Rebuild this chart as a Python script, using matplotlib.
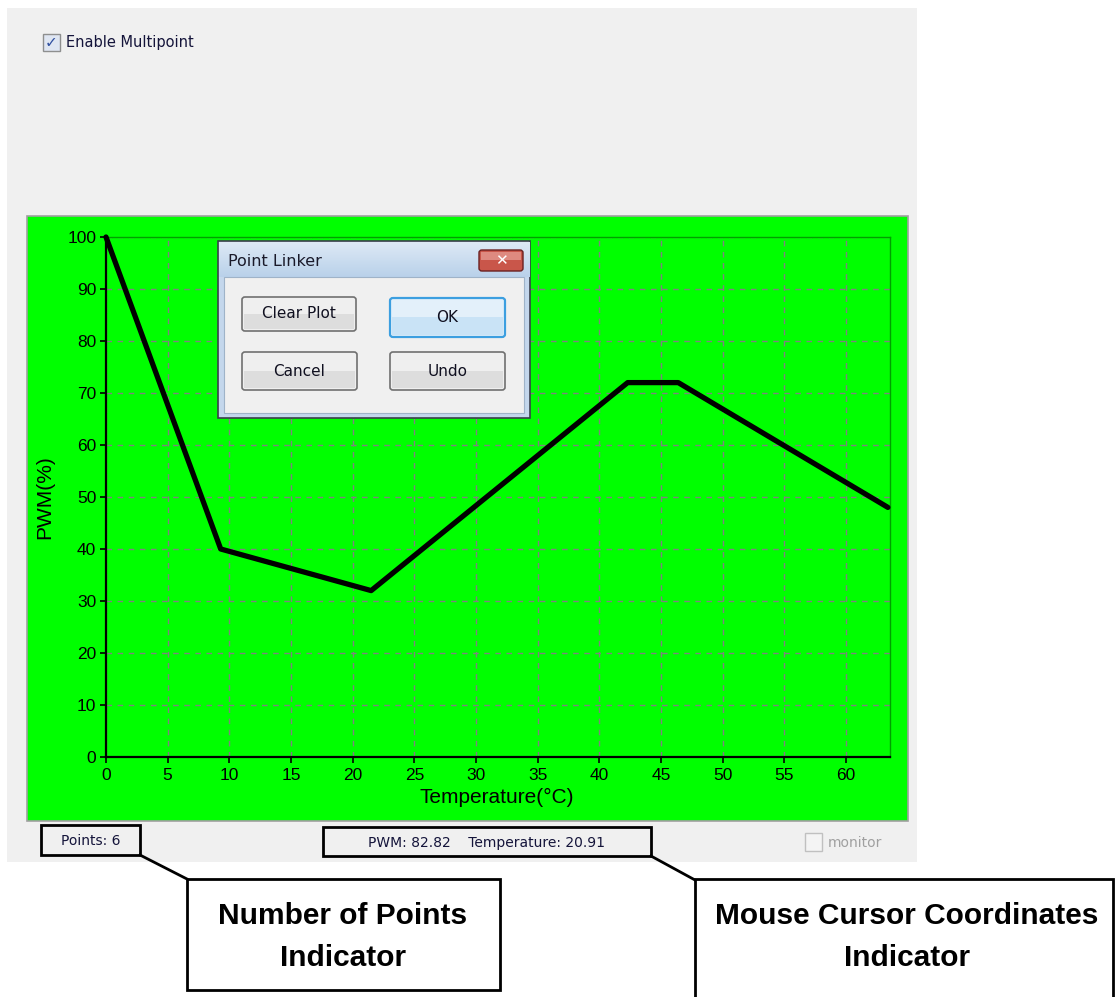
import matplotlib.pyplot as plt
from matplotlib.patches import Rectangle, FancyBboxPatch
from matplotlib.lines import Line2D
from matplotlib.colors import LinearSegmentedColormap
import numpy as np

# fan curve points (temperature in C, PWM in %)
temp = [0, 9.3, 21.5, 42.3, 46.4, 63.4]
pwm = [100, 40, 32, 72, 72, 48]
x_ticks = list(range(0, 61, 5))
y_ticks = list(range(0, 101, 10))
cursor_pwm = 82.82
cursor_temp = 20.91
buttons = ['Clear Plot', 'OK', 'Cancel', 'Undo']
callouts = ['Number of Points\nIndicator', 'Mouse Cursor Coordinates\nIndicator']

W, H = 1115, 997
plt.rcParams['font.family'] = ['Liberation Sans', 'DejaVu Sans']
gui_font = ['DejaVu Sans']
gui_col = '#14143a'

fig = plt.figure(figsize=(W / 100, H / 100), dpi=100)
fig.patch.set_facecolor('white')


def fx(x):
    return x / W


def fy(y):
    return 1 - y / H


def box(x0, y0, x1, y1, **kw):
    r = Rectangle((fx(x0), fy(y1)), (x1 - x0) / W, (y1 - y0) / H,
                  transform=fig.transFigure, **kw)
    fig.add_artist(r)
    return r


def rbox(x0, y0, x1, y1, r=3, **kw):
    p = FancyBboxPatch((fx(x0), fy(y1)), (x1 - x0) / W, (y1 - y0) / H,
                       boxstyle='round,pad=0,rounding_size=%f' % (r / W),
                       transform=fig.transFigure, **kw)
    fig.add_artist(p)
    return p


def line(x0, y0, x1, y1, **kw):
    fig.add_artist(Line2D([fx(x0), fx(x1)], [fy(y0), fy(y1)],
                          transform=fig.transFigure, **kw))


def txt(x, y, s, **kw):
    return fig.text(fx(x), fy(y), s, **kw)


# window panels
box(7, 8, 917, 862, facecolor='#f0f0f0', edgecolor='none', zorder=0)
box(27, 216, 908, 821, facecolor='#00ff00', edgecolor='#a0a0a0', lw=1.2, zorder=0.5)

# checkbox at top
box(43, 34, 60, 51, facecolor='#dfe6f2', edgecolor='#8e8f8f', lw=1, zorder=1)
txt(51.5, 43, '\u2713', ha='center', va='center', fontsize=11, color='#3050a0',
    fontweight='bold', family=['DejaVu Sans'])
txt(66, 43, 'Enable Multipoint', ha='left', va='center', fontsize=10.5,
    color=gui_col, family=gui_font)

# the plot
ax = fig.add_axes([fx(106), fy(757), (890 - 106) / W, (757 - 237) / H])
ax.set_zorder(1)
ax.set_facecolor('#00ff00')
ax.plot(temp, pwm, color='black', lw=3.8, solid_joinstyle='round',
        solid_capstyle='round', clip_on=False, zorder=3)
ax.set_xlim(0, 63.57)
ax.set_ylim(0, 100)
ax.set_xticks(x_ticks)
ax.set_yticks(y_ticks)
ax.set_axisbelow(True)
ax.grid(True, color='#808080', linestyle=(0, (4, 4)), lw=1.0)
ax.tick_params(direction='out', length=4, width=1.2, labelsize=12.5, pad=3,
               colors='black')
ax.tick_params(axis='x', pad=4)
for s in ['left', 'bottom']:
    ax.spines[s].set_color('black')
    ax.spines[s].set_linewidth(1.6)
for s in ['top', 'right']:
    ax.spines[s].set_color('#00a000')
    ax.spines[s].set_linewidth(1.0)

txt(497, 797, 'Temperature(°C)', ha='center', va='center', fontsize=15)
txt(45, 497, 'PWM(%)', ha='center', va='center', fontsize=15, rotation=90)

# Point Linker dialog
box(218, 241, 530, 418, facecolor='#c4d7ec', edgecolor='#3a3f4a', lw=1.2, zorder=5)
title_cmap = LinearSegmentedColormap.from_list('title', ['#b9d1ea', '#dde9f5'])
grad = fig.add_axes([fx(219), fy(277), (530 - 219) / W, (277 - 242) / H])
grad.imshow(np.linspace(0, 1, 50)[:, None], aspect='auto', cmap=title_cmap,
            extent=(0, 1, 0, 1), origin='lower')
grad.set_axis_off()
grad.set_zorder(6)
box(224, 277, 524, 413, facecolor='#f0f0f0', edgecolor='#9fb3c8', lw=0.8, zorder=7)
txt(228, 261, 'Point Linker', ha='left', va='center', fontsize=11.5,
    color='#1a1a2a', family=gui_font, zorder=8)
rbox(479, 250, 523, 271, r=3, facecolor='#c9564a', edgecolor='#6a2020', lw=1, zorder=8)
box(481, 252, 521, 260, facecolor='#de8a80', edgecolor='none', zorder=8.2)
txt(501, 260.5, '\u2715', ha='center', va='center', fontsize=11, color='white',
    fontweight='bold', family=['DejaVu Sans'], zorder=9)

btn_boxes = [(242, 297, 356, 331), (390, 298, 505, 337),
             (242, 352, 357, 390), (390, 352, 505, 390)]
for name, (x0, y0, x1, y1) in zip(buttons, btn_boxes):
    if name == 'OK':
        rbox(x0, y0, x1, y1, facecolor='#e3f0fa', edgecolor='#3c9fe0', lw=1.6, zorder=8)
        box(x0 + 2, (y0 + y1) / 2, x1 - 2, y1 - 2, facecolor='#c9e3f6',
            edgecolor='none', zorder=8.5)
    else:
        rbox(x0, y0, x1, y1, facecolor='#efefef', edgecolor='#707070', lw=1.2, zorder=8)
        box(x0 + 2, (y0 + y1) / 2, x1 - 2, y1 - 2, facecolor='#dddddd',
            edgecolor='none', zorder=8.5)
    txt((x0 + x1) / 2, (y0 + y1) / 2, name, ha='center', va='center',
        fontsize=11, color='#101020', family=gui_font, zorder=9)

# status bar
box(41, 825, 140, 855, facecolor='none', edgecolor='black', lw=2, zorder=4)
txt(90.5, 841, 'Points: %d' % len(temp), ha='center', va='center', fontsize=10,
    color=gui_col, family=gui_font)
box(323, 827, 651, 856, facecolor='none', edgecolor='black', lw=2, zorder=4)
txt(487, 843, 'PWM: %.2f    Temperature: %.2f' % (cursor_pwm, cursor_temp),
    ha='center', va='center', fontsize=10, color=gui_col, family=gui_font)
box(805, 833, 822, 851, facecolor='#f4f4f4', edgecolor='#c0c0c0', lw=1, zorder=4)
txt(828, 843, 'monitor', ha='left', va='center', fontsize=10, color='#a0a0a0',
    family=gui_font)

# callouts
line(140, 855, 187, 879, color='black', lw=2)
line(651, 856, 695, 880, color='black', lw=2)
box(187, 879, 500, 990, facecolor='white', edgecolor='black', lw=2, zorder=4)
box(695, 879, 1113, 1010, facecolor='white', edgecolor='black', lw=2, zorder=4)
callout_font = ['Liberation Sans']
txt(343, 937, callouts[0], ha='center', va='center', fontsize=21.5,
    fontweight='bold', fontstretch='condensed', family=callout_font,
    linespacing=1.65, zorder=5)
txt(907, 937, callouts[1], ha='center', va='center', fontsize=21.5,
    fontweight='bold', fontstretch='condensed', family=callout_font,
    linespacing=1.65, zorder=5)

fig.savefig('out.png', dpi=100)
